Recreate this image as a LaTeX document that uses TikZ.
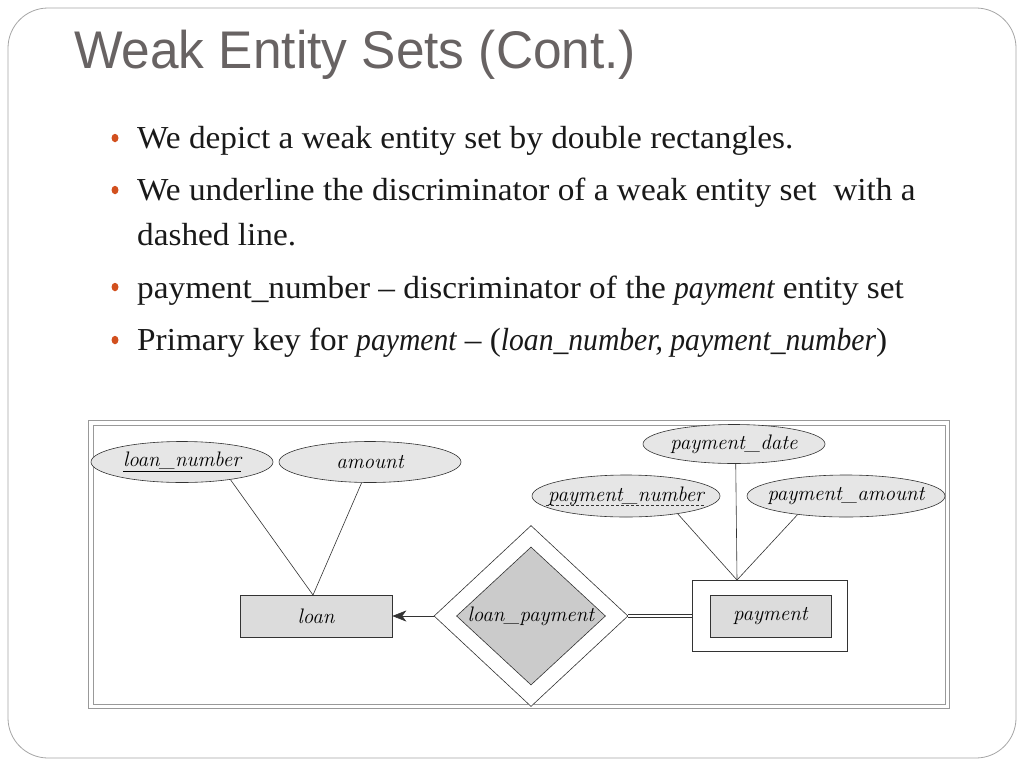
\documentclass[tikz,border=0pt]{standalone}
\usepackage{fontspec}
\usepackage{graphicx}
\usetikzlibrary{shapes.geometric,arrows.meta,calc}
\newfontfamily\titlefont{Liberation Sans}
\newfontfamily\bodyfont{Liberation Serif}
\definecolor{titlegray}{HTML}{686363}
\definecolor{bulletred}{HTML}{D2501E}
\definecolor{ellfill}{HTML}{E6E6E6}
\definecolor{entfill}{HTML}{DCDCDC}
\definecolor{relfill}{HTML}{CBCBCB}
\definecolor{linegray}{HTML}{333333}
\newcommand{\zw}[1]{\makebox[0pt]{#1}}
\newcommand{\ital}[1]{\scalebox{0.89}[1]{\itshape #1}}
\tikzset{
  attr/.style={ellipse,draw=linegray,line width=0.6pt,fill=ellfill,inner sep=0pt,
    font=\fontsize{21}{24}\selectfont\itshape},
  entbox/.style={rectangle,draw=linegray,line width=0.6pt,fill=entfill,inner sep=0pt,
    font=\fontsize{21}{24}\selectfont\itshape},
  conn/.style={draw=linegray,line width=0.6pt},
  bodyline/.style={anchor=base west,inner sep=0pt,font=\bodyfont\fontsize{32}{38}\selectfont,text=black!90,xscale=1.04},
  bulletdot/.style={ellipse,fill=bulletred,minimum width=7pt,minimum height=8.5pt,inner sep=0pt}
}
\begin{document}
\begin{tikzpicture}[x=1pt,y=-1pt]
\useasboundingbox (0,0) rectangle (1024,768);
\fill[white] (0,0) rectangle (1024,768);
% slide frame
\draw[gray!70,line width=0.8pt,rounded corners=40pt] (8,8) rectangle (1016,758);
% title
\node[anchor=base west,inner sep=0pt,font=\titlefont\fontsize{53}{60}\selectfont,text=titlegray,xscale=0.97] (title) at (74,68) {Weak Entity Sets (Cont.)};
% bullets
\node[bulletdot] (b1) at (115,138) {};
\node[bodyline] (t1) at (137,148) {We depict a weak entity set by double rectangles.};
\node[bulletdot] (b2) at (115,190) {};
\node[bodyline] (t2) at (137,200) {We underline the discriminator of a weak entity set\ \ with a};
\node[bodyline] (t3) at (137,245) {dashed line.};
\node[bulletdot] (b3) at (115,287) {};
\node[bodyline] (t4) at (137,298) {payment\_number – discriminator of the \ital{payment} entity set};
\node[bulletdot] (b4) at (115,340) {};
\node[bodyline] (t5) at (137,350) {Primary key for \ital{payment} – (\ital{loan\_number, payment\_number})};
% diagram frame
\draw[gray!80,line width=1.4pt] (88.5,420.5) rectangle (949.5,708.5);
\draw[gray!80,line width=1pt] (93,425) rectangle (945,704);
% attributes
\node[attr,minimum width=182pt,minimum height=41pt] (ln) at (182,462) {\zw{\underline{loan\_number}}};
\node[attr,minimum width=182pt,minimum height=41pt] (am) at (370,462) {\zw{amount}};
\node[attr,minimum width=182pt,minimum height=39pt] (pd) at (734,444) {\zw{payment\_date}};
\node[attr,minimum width=188pt,minimum height=42pt] (pn) at (626,496) {\zw{payment\_number}};
\node[attr,minimum width=198pt,minimum height=42pt] (pa) at (846,496) {\zw{payment\_amount}};
\draw[dash pattern=on 3pt off 2pt,line width=0.6pt,linegray] ($(pn.center)+(-80,9)$) -- ($(pn.center)+(78,9)$);
% entities
\node[entbox,minimum width=152pt,minimum height=42pt] (loan) at (316,616) {loan};
\node[rectangle,draw=linegray,line width=0.6pt,fill=white,minimum width=155pt,minimum height=71pt] (pay) at (769.5,616) {};
\node[entbox,minimum width=121pt,minimum height=42pt] (payin) at (770.5,616) {payment};
% relationship
\node[diamond,draw=linegray,line width=0.6pt,fill=white,inner sep=0pt,minimum width=194pt,minimum height=181pt] (lpo) at (531,616) {};
\node[diamond,draw=linegray,line width=0.6pt,fill=relfill,inner sep=0pt,minimum width=149pt,minimum height=138pt,
  font=\fontsize{21}{24}\selectfont\itshape] (lp) at (531,616) {\zw{loan\_payment}};
% junction points
\coordinate (lj) at (313,595);
\coordinate (pj) at (737,580);
% connectors
\draw[conn] (ln.-20) -- (lj);
\draw[conn] (am.-112) -- (lj);
\draw[conn] (pn.-19) -- (pj);
\draw[conn] (pd.-85) -- (pj);
\draw[conn] (pa.201) -- (pj);
\draw[conn,-{Stealth[length=14pt,width=11pt,inset=4pt,fill=linegray]}] (lpo.west) -- (loan.east);
\draw[linegray,line width=0.6pt,double=white,double distance=2.6pt] (lpo.east) -- (pay.west);
\end{tikzpicture}
\end{document}
